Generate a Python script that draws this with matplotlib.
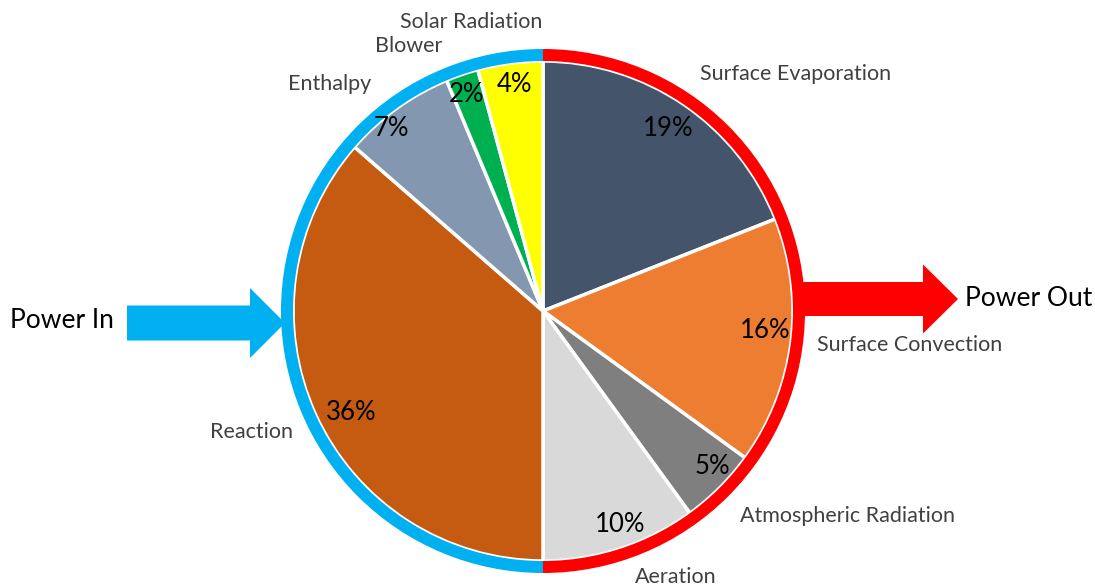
import matplotlib.pyplot as plt
from matplotlib.patches import Wedge, FancyArrow

# energy balance shares (percent), clockwise from 12 o'clock
categories = [
    "Surface Evaporation", "Surface Convection", "Atmospheric Radiation", "Aeration",
    "Reaction", "Enthalpy", "Blower", "Solar Radiation",
]
shares = [19.0, 16.0, 5.0, 10.0, 36.4, 7.3, 2.1, 4.2]
colors = ["#44546A", "#ED7D31", "#7F7F7F", "#D9D9D9",
          "#C55A11", "#8497B0", "#00B050", "#FFFF00"]

W, H = 1095, 588
CX, CY = 543, H - 311
R = 250

# where each category name and percentage sit (pixel coords, origin top-left)
label_xy = [(700, 74), (817, 345), (740, 516), (635, 577),
            (210, 432), (288, 84), (375, 46), (400, 22)]
pct_xy = [(668, 128), (765, 331), (712, 467), (620, 524),
          (351, 413), (391, 128), (466, 95), (514, 84)]

plt.rcParams["font.family"] = ["Lato", "DejaVu Sans"]

fig = plt.figure(figsize=(W / 100, H / 100), dpi=100)
ax = fig.add_axes([0, 0, 1, 1])

# arrows behind the ring
ax.add_patch(FancyArrow(127, H - 323, 158, 0, width=35, head_width=70, head_length=35,
                        length_includes_head=True, color="#00B0F0", lw=0, zorder=1))
ax.add_patch(FancyArrow(790, H - 299, 168, 0, width=34, head_width=69, head_length=35,
                        length_includes_head=True, color="#FF0000", lw=0, zorder=1))

wedges, _, autotexts = ax.pie(
    shares, colors=colors, startangle=90, counterclock=False, radius=R, center=(CX, CY),
    autopct="%.0f%%", pctdistance=0.9, frame=True,
    wedgeprops=dict(edgecolor="white", linewidth=2.5),
    textprops=dict(fontsize=18.5, color="black"),
)
ax.set_xlim(0, W)
ax.set_ylim(0, H)
ax.set_aspect("equal")
ax.axis("off")

for t, (x, y) in zip(autotexts, pct_xy):
    t.set_position((x, H - y))
    t.set_zorder(5)

# input / output ring
ax.add_patch(Wedge((CX, CY), 262, 90, 270, width=12, color="#00B0F0", lw=0, zorder=4))
ax.add_patch(Wedge((CX, CY), 262, -90, 90, width=12, color="#FF0000", lw=0, zorder=4))

for name, (x, y) in zip(categories, label_xy):
    ax.text(x, H - y, name, fontsize=15.5, color="#404040", ha="left", va="center")

ax.text(10, H - 320, "Power In", fontsize=19, color="black", ha="left", va="center")
ax.text(965, H - 299, "Power Out", fontsize=19, color="black", ha="left", va="center")

fig.savefig("out.png", dpi=100)
